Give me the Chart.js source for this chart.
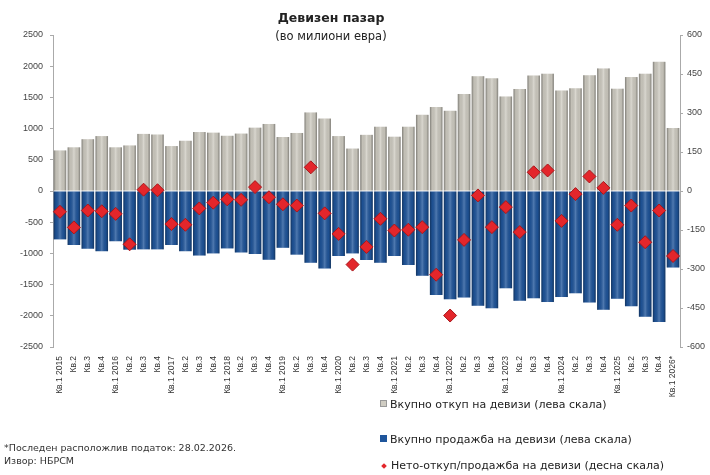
<!DOCTYPE html>
<html>
<head>
<meta charset="utf-8">
<script src="https://cdn.jsdelivr.net/npm/chart.js@4.4.1/dist/chart.umd.min.js"></script>
<style>
  body { margin: 0; background: #fff; }
  #wrap { position: relative; width: 710px; height: 475px; overflow: hidden; font-family: "DejaVu Sans", sans-serif; color: #222; }
  #myChart { position: absolute; left: 0; top: 0; }
  .title { position: absolute; left: 231px; width: 200px; text-align: center; white-space: nowrap; }
  .leg { position: absolute; left: 380px; font-size: 11px; line-height: 14px; white-space: nowrap; }
  .sw { display: inline-block; width: 6px; height: 6px; margin-right: 3px; vertical-align: 1px; }
  .note { position: absolute; left: 4px; font-size: 9.5px; line-height: 12px; color: #333; white-space: nowrap; }
</style>
</head>
<body>
<div id="wrap">
  <canvas id="myChart" width="710" height="475"></canvas>
  <div class="title" style="top:10px;font-size:12.5px;font-weight:bold;">Девизен пазар</div>
  <div class="title" style="top:29px;font-size:11.5px;">(во милиони евра)</div>
  <div class="leg" style="top:398px"><span class="sw" style="background:#cfccc2;border:1px solid #999;width:5px;height:5px"></span>Вкупно откуп на девизи (лева скала)</div>
  <div class="leg" style="top:433px"><span class="sw" style="background:#1f559b;width:7px;height:7px"></span>Вкупно продажба на девизи (лева скала)</div>
  <div class="leg" style="top:459px"><span class="sw" style="background:#e3262b;width:4px;height:4px;transform:rotate(45deg);margin-left:2px;margin-right:5px"></span>Нето-откуп/продажба на девизи (десна скала)</div>
  <div class="note" style="top:442px">*Последен расположлив податок: 28.02.2026.</div>
  <div class="note" style="top:455px">Извор: НБРСМ</div>
</div>
<script>
const quarters = [
  'Кв.1 2015', 'Кв.2', 'Кв.3', 'Кв.4',
  'Кв.1 2016', 'Кв.2', 'Кв.3', 'Кв.4',
  'Кв.1 2017', 'Кв.2', 'Кв.3', 'Кв.4',
  'Кв.1 2018', 'Кв.2', 'Кв.3', 'Кв.4',
  'Кв.1 2019', 'Кв.2', 'Кв.3', 'Кв.4',
  'Кв.1 2020', 'Кв.2', 'Кв.3', 'Кв.4',
  'Кв.1 2021', 'Кв.2', 'Кв.3', 'Кв.4',
  'Кв.1 2022', 'Кв.2', 'Кв.3', 'Кв.4',
  'Кв.1 2023', 'Кв.2', 'Кв.3', 'Кв.4',
  'Кв.1 2024', 'Кв.2', 'Кв.3', 'Кв.4',
  'Кв.1 2025', 'Кв.2', 'Кв.3', 'Кв.4',
  'Кв.1 2026*'
];

// total purchases, left scale
const purchases = [
  650, 700, 830, 880,
  700, 730, 915, 905,
  720, 805, 945, 935,
  885, 920, 1015, 1075,
  865, 930, 1260, 1160,
  880, 680, 900, 1030,
  870, 1030, 1220, 1345,
  1285, 1555, 1840, 1805,
  1515, 1635, 1850, 1880,
  1610, 1645, 1855, 1965,
  1640, 1825, 1880, 2070,
  1010
];

// total sales, left scale
const sales = [
  -775, -865, -925, -965,
  -805, -940, -935, -935,
  -865, -965, -1035, -1000,
  -920, -985, -1010, -1100,
  -910, -1020, -1150, -1240,
  -1040, -1000, -1105, -1150,
  -1040, -1185, -1360, -1665,
  -1735, -1705, -1840, -1880,
  -1560, -1760, -1720, -1780,
  -1700, -1640, -1785, -1905,
  -1725, -1845, -2015, -2100,
  -1225
];

// net purchase / sale, right scale
const net = [
  -80, -140, -75, -78,
  -88, -205, 5, 3,
  -127, -130, -67, -45,
  -32, -34, 15, -24,
  -51, -56, 91, -86,
  -165, -283, -215, -107,
  -152, -149, -139, -322,
  -479, -188, -17, -139,
  -62, -158, 72, 79,
  -115, -12, 56, 12,
  -130, -56, -197, -75,
  -250
];

const leftTicks = { min: -2500, max: 2500, step: 500 };
const rightTicks = { min: -600, max: 600, step: 150 };

// rounded "cylinder" look: dark edges, light middle over each bar
const barShade = {
  id: 'barShade',
  afterDatasetDraw(chart, args) {
    if (args.meta.type !== 'bar') return;
    const c = chart.ctx;
    c.save();
    args.meta.data.forEach(bar => {
      const w = bar.width;
      const x0 = bar.x - w / 2;
      const top = Math.min(bar.y, bar.base);
      const h = Math.abs(bar.base - bar.y);
      const g = c.createLinearGradient(x0, 0, x0 + w, 0);
      g.addColorStop(0, 'rgba(0,0,0,0.38)');
      g.addColorStop(0.18, 'rgba(0,0,0,0.06)');
      g.addColorStop(0.5, 'rgba(255,255,255,0.22)');
      g.addColorStop(0.82, 'rgba(0,0,0,0.06)');
      g.addColorStop(1, 'rgba(0,0,0,0.38)');
      c.fillStyle = g;
      c.fillRect(x0, top, w, h);
    });
    c.restore();
  }
};

const tickFont = { family: 'Liberation Sans', size: 9 };
const plainNumber = v => String(v);

const ctx = document.getElementById('myChart').getContext('2d');
const myChart = new Chart(ctx, {
  type: 'bar',
  data: {
    labels: quarters,
    datasets: [{
      type: 'line',
      label: 'Нето-откуп/продажба на девизи (десна скала)',
      data: net,
      yAxisID: 'y1',
      showLine: false,
      pointStyle: 'rectRot',
      pointRadius: 6.5,
      backgroundColor: '#e3262b',
      borderColor: '#a8161a',
      borderWidth: 1,
      order: 0
    }, {
      label: 'Вкупно откуп на девизи (лева скала)',
      data: purchases,
      yAxisID: 'y',
      backgroundColor: '#cfccc2',
      grouped: false,
      barPercentage: 0.9,
      categoryPercentage: 1.0,
      order: 1
    }, {
      label: 'Вкупно продажба на девизи (лева скала)',
      data: sales,
      yAxisID: 'y',
      backgroundColor: '#1f559b',
      grouped: false,
      barPercentage: 0.9,
      categoryPercentage: 1.0,
      order: 2
    }]
  },
  options: {
    responsive: false,
    animation: false,
    layout: { padding: { top: 35, bottom: 68, left: 0, right: 0 } },
    plugins: {
      legend: { display: false },
      tooltip: { enabled: false }
    },
    scales: {
      x: {
        grid: { display: false, drawTicks: false },
        border: { display: false },
        ticks: {
          autoSkip: false,
          maxRotation: 90,
          minRotation: 90,
          padding: 9,
          font: { family: 'Liberation Sans', size: 8.5 },
          color: '#333'
        },
        afterFit(s) { s.height = 60; }
      },
      y: {
        position: 'left',
        min: leftTicks.min,
        max: leftTicks.max,
        ticks: { stepSize: leftTicks.step, padding: 7, font: tickFont, color: '#444', callback: plainNumber },
        grid: { drawOnChartArea: false, tickLength: 3, color: '#aaa' },
        border: { color: '#aaa' },
        afterFit(s) { s.width = 53; }
      },
      y1: {
        position: 'right',
        min: rightTicks.min,
        max: rightTicks.max,
        ticks: { stepSize: rightTicks.step, padding: 4, font: tickFont, color: '#444', callback: plainNumber },
        grid: { drawOnChartArea: false, tickLength: 3, color: '#aaa' },
        border: { color: '#aaa' },
        afterFit(s) { s.width = 30; }
      }
    }
  },
  plugins: [barShade]
});
</script>
</body>
</html>
